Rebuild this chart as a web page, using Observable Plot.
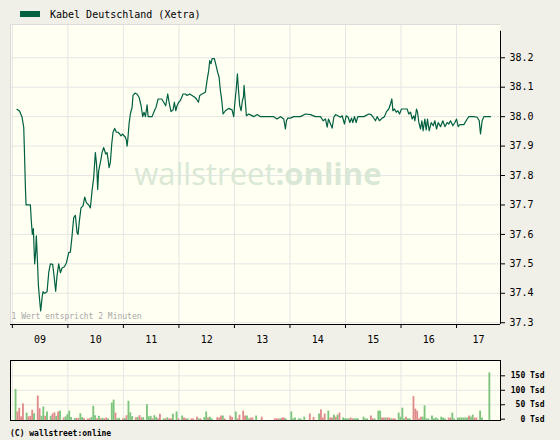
<!DOCTYPE html>
<html>
<head>
<meta charset="utf-8">
<script src="https://cdn.jsdelivr.net/npm/d3@7"></script>
<script src="https://cdn.jsdelivr.net/npm/@observablehq/plot@0.6"></script>
<style>
  body { margin: 0; background: #f0efe8; }
  #wrap { position: relative; width: 560px; height: 440px; overflow: hidden; background: #f0efe8; }
  #legend { position: absolute; top: 7px; left: 20px; font: 10px "DejaVu Sans Mono", monospace; color: #000; display: flex; align-items: center; height: 14px; }
  #legend .sw { display: inline-block; width: 20px; height: 6px; background: #006040; margin-right: 10px; }
  #main { position: absolute; top: 0; left: 0; }
  #vol { position: absolute; top: 355px; left: 0; }
  #copy { position: absolute; top: 429px; left: 10px; font: bold 8px "DejaVu Sans Mono", monospace; color: #000; }
</style>
</head>
<body>
<div id="wrap">
  <div id="main"></div>
  <div id="vol"></div>
  <div id="legend"><span class="sw"></span><span>Kabel Deutschland (Xetra)</span></div>
  <div id="copy">(C) wallstreet:online</div>
</div>
<script>
// ---- data (minutes since 09:00) ----
const seriesName = "Kabel Deutschland (Xetra)";
const hourLabels = ["09","10","11","12","13","14","15","16","17"];
const priceTicks = [37.3,37.4,37.5,37.6,37.7,37.8,37.9,38.0,38.1,38.2];
const volTicks = [0,50,100,150];
const xDomain = [-2, 527.5];
const priceDomain = [37.294, 38.313];
const volDomain = [-4.5, 203];

const priceMin = [5.0,7.9,10.5,12.3,13.0,14.1,14.8,19.5,20.5,21.6,22.7,24.1,25.2,25.9,27.0,28.1,29.2,30.6,32.1,33.1,34.9,37.5,39.3,41.1,43.6,45.4,46.8,48.3,50.1,51.9,53.7,56.2,58.4,60.9,62.7,64.5,66.3,68.1,69.9,71.0,72.4,74.2,76.4,78.2,80.0,82.5,84.3,86.1,87.9,89.7,90.8,91.5,92.2,93.3,94.4,95.8,96.9,98.7,99.8,100.9,102.3,103.4,104.5,105.9,107.4,108.8,110.6,112.4,114.2,116.0,117.5,118.9,120.7,122.2,123.2,124.0,124.7,126.1,127.5,129.4,130.4,132.6,134.7,136.9,139.1,140.9,142.3,143.8,145.6,146.7,151.0,153.5,155.3,157.5,161.4,163.6,165.7,167.9,169.7,171.5,173.7,175.1,176.6,178.0,179.8,181.6,184.5,187.0,188.8,191.7,194.2,197.1,198.9,201.1,202.5,205.0,208.6,210.4,212.2,213.3,214.7,215.8,218.3,220.1,221.9,223.4,224.8,226.3,227.7,230.2,233.8,237.4,239.2,240.3,241.8,243.2,244.3,245.7,247.2,248.6,249.7,250.4,251.5,252.9,255.5,257.3,260.9,264.5,268.1,275.3,282.5,286.1,289.7,293.3,295.1,296.2,297.6,300.5,304.1,311.3,316.7,322.1,327.5,333.0,335.8,338.4,340.2,341.6,343.8,345.6,347.4,349.2,351.7,354.6,356.4,358.9,360.7,362.9,364.7,366.5,367.9,369.7,371.5,373.3,379.8,385.2,387.7,389.9,392.4,394.2,396.7,399.6,402.1,404.3,406.8,408.6,410.1,411.2,413.0,414.8,416.6,418.4,420.5,423.0,426.6,428.4,430.3,432.1,433.9,435.0,436.7,437.8,439.3,441.1,442.5,443.9,445.7,447.2,448.6,450.4,452.6,454.8,456.6,458.4,460.2,462.7,465.2,467.4,469.9,471.7,473.5,476.0,478.2,480.0,481.8,483.6,487.9,491.5,493.3,498.7,502.3,504.5,505.9,507.7,509.5,516.7];
const priceVal = [38.025,38.018,37.998,37.964,37.89,37.76,37.70,37.70,37.645,37.60,37.62,37.50,37.54,37.595,37.52,37.43,37.386,37.34,37.384,37.405,37.40,37.405,37.47,37.50,37.498,37.45,37.407,37.46,37.50,37.47,37.486,37.49,37.503,37.538,37.54,37.594,37.657,37.665,37.606,37.60,37.645,37.69,37.697,37.727,37.708,37.70,37.69,37.748,37.793,37.878,37.844,37.81,37.753,37.816,37.833,37.856,37.878,37.895,37.884,37.873,37.878,37.856,37.827,37.844,37.907,37.947,37.96,37.947,37.947,37.941,37.935,37.941,37.935,37.93,37.92,37.90,37.92,37.975,38.009,38.032,38.072,38.08,38.077,38.066,38.037,38.0,38.015,38.0,38.04,38.0,38.0,38.02,38.032,38.06,38.06,38.049,38.037,38.077,38.043,38.017,38.023,38.049,38.02,38.037,38.049,38.055,38.077,38.077,38.072,38.077,38.072,38.066,38.06,38.049,38.072,38.077,38.083,38.123,38.157,38.19,38.18,38.197,38.197,38.174,38.15,38.134,38.089,38.055,38.009,38.02,38.028,38.023,38.0,38.043,38.089,38.145,38.094,38.038,38.02,38.055,38.066,38.106,38.06,38.003,38.009,38.006,38.0,38.007,38.0,38.0,38.0,37.992,38.0,37.992,37.958,37.986,37.995,37.995,38.0,38.0,38.009,38.007,38.0,38.0,37.986,37.992,37.964,37.992,37.975,37.961,37.998,38.007,38.003,37.998,38.003,37.975,38.003,37.998,37.98,37.995,37.98,38.0,37.98,38.0,38.0,38.009,38.007,37.998,37.986,38.0,37.986,37.995,38.0,38.017,38.026,38.043,38.06,38.02,38.026,38.015,38.02,38.009,38.026,38.026,38.026,38.009,38.015,37.992,38.003,37.986,38.026,38.015,37.98,37.958,37.986,37.952,37.992,37.955,37.992,37.952,37.98,37.969,37.986,37.958,37.98,37.966,37.986,37.966,37.98,37.975,37.986,37.969,37.98,37.992,37.966,37.973,37.973,37.992,38.0,38.0,37.998,37.986,37.941,37.986,38.0,38.0];

// volume per 2-minute interval: minute, thousand shares, direction (u = up, d = down)
const volMin = [4,6,8,10,12,16,18,20,22,24,28,30,32,34,36,38,42,44,46,48,50,52,56,58,60,62,64,68,70,72,74,76,78,82,84,86,88,90,92,94,96,98,100,102,104,108,110,112,114,116,120,122,124,126,128,130,134,136,138,140,142,146,148,150,152,154,156,158,160,164,166,168,170,172,174,178,180,184,186,188,190,194,196,200,202,204,208,210,212,214,216,222,224,226,228,230,236,238,242,244,246,250,252,254,256,258,260,264,270,284,286,288,290,292,294,296,302,304,306,310,312,316,322,326,332,334,336,338,342,344,346,348,350,352,354,358,360,362,364,366,368,370,372,374,380,382,384,388,390,392,396,398,400,402,404,406,408,410,412,414,418,420,422,424,426,428,430,434,436,438,440,442,444,446,448,450,454,456,458,460,464,466,468,472,474,476,478,482,484,486,488,490,492,494,496,498,500,502,506,508,516];
const volTsd = [103,25,38,8,53,21,8,10,31,19,80,36,10,42,10,25,10,18,22,10,25,28,4,8,16,28,6,2,3,2,19,6,2,1,1,6,45,12,1,10,1,3,1,4,1,56,66,21,1,3,1,2,12,62,22,9,5,6,12,4,5,50,8,10,1,12,6,1,17,1,1,5,1,1,17,25,1,11,4,1,1,1,1,7,1,1,6,25,4,7,1,5,4,11,11,1,11,6,25,1,14,28,11,11,1,4,4,11,7,1,1,1,1,4,4,1,25,1,4,1,1,7,18,6,18,32,4,18,28,4,4,14,7,14,21,4,1,1,1,4,1,1,1,1,7,1,1,11,1,1,28,28,4,4,4,4,4,1,1,1,21,7,38,1,7,1,1,78,35,28,1,7,7,46,1,1,11,1,4,1,7,4,1,4,4,21,1,4,4,4,4,4,4,11,7,14,4,4,28,4,160];
const volDir = ["u","d","d","d","d","u","d","d","d","u","d","d","u","u","d","u","u","d","d","u","d","u","d","u","u","u","u","u","d","d","u","u","d","d","d","u","u","u","d","u","d","u","d","d","u","u","u","d","u","u","d","u","d","u","u","u","d","u","d","d","u","u","u","u","d","u","u","d","d","u","d","u","d","d","u","u","d","u","d","d","u","d","d","d","u","d","u","u","d","u","u","d","d","d","u","d","d","d","u","d","d","d","d","u","u","d","d","u","d","d","d","d","u","d","d","u","u","u","u","u","u","u","d","d","u","d","d","d","u","d","d","u","d","u","d","u","u","u","u","d","d","u","u","u","u","u","u","d","d","u","u","u","d","d","u","d","d","u","d","d","u","u","u","u","d","u","u","d","d","d","d","d","u","u","u","u","u","u","u","u","u","u","u","d","d","u","u","u","u","u","u","u","u","d","u","u","d","d","u","u","u"];

// ---- derived tables ----
const price = priceMin.map((m, i) => ({m, v: priceVal[i]}));
const volume = volMin.map((m, i) => ({m, v: volTsd[i], dir: volDir[i]}));
const hourTicks = hourLabels.map((_, i) => i * 60);
const hourLabelPos = hourLabels.map((h, i) => ({
  m: i < hourLabels.length - 1 ? hourTicks[i] + 30 : (hourTicks[i] + xDomain[1]) / 2,
  h
}));

const ivory = "#fffff2";
const gridColor = "#e6e6e6";
const mono = "DejaVu Sans Mono";

const main = Plot.plot({
  width: 560,
  height: 355,
  marginTop: 24,
  marginBottom: 31,
  marginLeft: 10,
  marginRight: 60,
  style: {background: "none", fontFamily: mono, fontSize: "10px", color: "#000", overflow: "visible"},
  x: {domain: xDomain, label: null},
  y: {domain: priceDomain, label: null},
  marks: [
    Plot.frame({fill: ivory, stroke: null}),
    Plot.gridY(priceTicks, {stroke: gridColor, strokeOpacity: 1}),
    Plot.gridX(hourTicks, {stroke: gridColor, strokeOpacity: 1}),
    Plot.text(["wallstreet"], {frameAnchor: "middle", text: d => d, textAnchor: "end", dx: 20, dy: 1,
      fontSize: 31, fontFamily: "Open Sans", fill: "#d9e8d6"}),
    Plot.text([":online"], {frameAnchor: "middle", text: d => d, textAnchor: "start", dx: 20, dy: 1,
      fontSize: 31, fontWeight: "bold", fontFamily: "Open Sans", fill: "#d9e8d6"}),
    Plot.ruleY([priceDomain[1]], {stroke: "#dcdcdc"}),
    Plot.ruleX([xDomain[0]], {stroke: "#dcdcdc"}),
    Plot.text(["1 Wert entspricht 2 Minuten"], {frameAnchor: "bottom-left", text: d => d, textAnchor: "start",
      dx: 1, dy: -6, fontSize: 8, fill: "#a8a8a8"}),
    Plot.line(price, {x: "m", y: "v", stroke: "#006040", strokeWidth: 1.2}),
    Plot.ruleY([priceDomain[0]], {stroke: "#000"}),
    Plot.ruleX([xDomain[1]], {stroke: "#000", y1: priceDomain[0], y2: priceTicks[priceTicks.length - 1] + 0.09}),
    Plot.axisY(priceTicks, {anchor: "right", tickSize: 4, tickPadding: 5, tickFormat: d => d.toFixed(1), fontSize: 10, label: null}),
    Plot.axisX(hourTicks, {tickSize: 4, tickFormat: () => "", label: null}),
    Plot.text(hourLabelPos, {x: "m", text: "h", frameAnchor: "bottom", dy: 18, fontSize: 10})
  ]
});
document.getElementById("main").append(main);

const vol = Plot.plot({
  width: 560,
  height: 70,
  marginTop: 5,
  marginBottom: 5,
  marginLeft: 10,
  marginRight: 60,
  style: {background: "none", fontFamily: mono, fontSize: "8px", color: "#000", overflow: "visible"},
  x: {domain: xDomain, axis: null, label: null},
  y: {domain: volDomain, label: null},
  color: {domain: ["u", "d"], range: ["#7dc47d", "#e08c8c"]},
  marks: [
    Plot.frame({fill: ivory, stroke: null}),
    Plot.gridY(volTicks.slice(1), {stroke: gridColor, strokeOpacity: 1}),
    Plot.gridX(hourTicks, {stroke: gridColor, strokeOpacity: 1}),
    Plot.rect(volume, {x1: d => d.m - 1, x2: d => d.m + 1, y1: () => volDomain[0], y2: "v", fill: "dir", inset: 0}),
    Plot.frame({stroke: "#000"}),
    Plot.axisY(volTicks, {anchor: "right", tickSize: 4, tickPadding: 40, textAnchor: "end",
      tickFormat: d => `${d} Tsd`, fontSize: 8, fontWeight: "bold", label: null})
  ]
});
document.getElementById("vol").append(vol);
</script>
</body>
</html>
